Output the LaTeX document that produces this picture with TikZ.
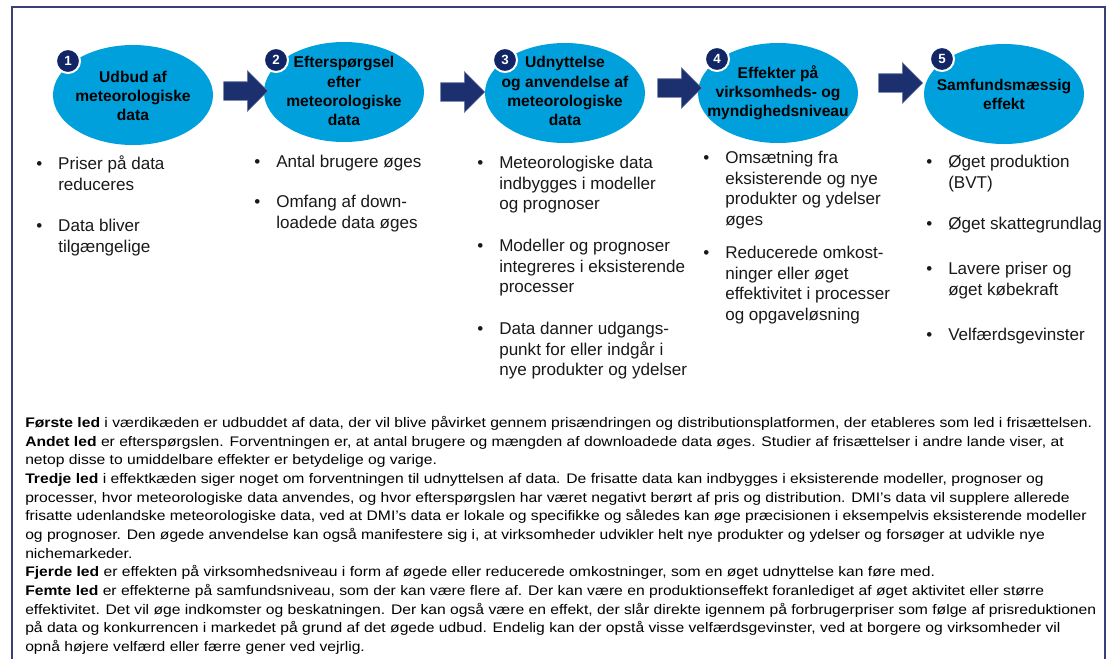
\documentclass[tikz,border=0pt]{standalone}
\usepackage{fontspec}
\setmainfont{Liberation Sans}
\newfontfamily\notefont[FakeStretch=1.13]{Liberation Sans}
\usepackage{tikz}
\usetikzlibrary{shapes, shapes.arrows, positioning}
\definecolor{cyanblue}{RGB}{0,160,220}
\definecolor{badgenavy}{RGB}{18,38,102}
\definecolor{arrownavy}{RGB}{28,48,112}
\definecolor{framenavy}{RGB}{55,65,115}
\definecolor{textgray}{RGB}{25,25,25}
\newcommand\bul{\strut\makebox[16.5pt][l]{\textbullet}}
\newcommand\ind{\makebox[16.5pt]{}}

\begin{document}
\begin{tikzpicture}[x=0.75pt, y=-0.75pt,
			stageStyle/.style={ellipse, fill=cyanblue, minimum width=120pt, minimum height=75pt, inner sep=0pt},
			stageText/.style={align=center, text=black, inner sep=0pt, font=\fontsize{11.7}{14.3}\selectfont\bfseries},
			badge/.style={circle, fill=badgenavy, draw=white, line width=1.5pt, minimum size=18pt, inner sep=0pt, text=white, font=\fontsize{10}{12}\selectfont\bfseries},
			flowArrow/.style={single arrow, fill=arrownavy, draw=arrownavy!65!white, line width=0.4pt, inner xsep=0pt, inner ysep=6.75pt, minimum width=0pt, minimum height=33pt, single arrow head extend=8.25pt},
			itemStyle/.style={anchor=north west, align=left, inner sep=0pt, text=textgray, font=\fontsize{12.8}{15.4}\selectfont},
			noteStyle/.style={anchor=north west, align=left, inner sep=0pt, text=black, font=\notefont\fontsize{10.4}{14}\selectfont},]
			
			\useasboundingbox (0,0) rectangle (1111,658);
			\clip (0,0) rectangle (1111,658);
			\draw[framenavy, line width=1.3pt] (12,7) rectangle (1105,700);
			
			\foreach \i/\x/\y in {1/133/95, 2/344/92, 3/565/93, 4/778/93, 5/1004/94}
			\node[stageStyle] (s\i) at (\x,\y) {};
			
			\node[stageText] (t1) at (s1.center) [yshift=-0.75pt] {Udbud af\\meteorologiske\\data};
			\node[stageText] (t2) at (s2.center) [yshift=0.75pt] {Efterspørgsel\\efter\\meteorologiske\\data};
			\node[stageText] (t3) at (s3.center) [yshift=1.5pt] {Udnyttelse\\og anvendelse af\\meteorologiske\\data};
			\node[stageText] (t4) at (s4.center) {Effekter på\\virksomheds- og\\myndighedsniveau};
			\node[stageText] (t5) at (s5.center) {Samfundsmæssig\\effekt};
			
			\foreach \i/\x/\y in {1/68/61, 2/276/60, 3/505/60, 4/717/59, 5/942/59}
			\node[badge] (b\i) at (\x,\y) {\i};
			
			\foreach \i/\x/\y in {1/241/91, 2/458/92, 3/675/88, 4/896/83}
			\node[flowArrow] (a\i) at (\x,\y) {};
			
			%%%%%%%%%%%
			\foreach \x/\y/\txt [count=\n] in {
				36/155/{Priser på data\\\ind reduceres},
				36/217/{Data bliver\\\ind tilgængelige},
				254/153/{Antal brugere øges},
				254/193/{Omfang af down-\\\ind loadede data øges},
				477/154/{Meteorologiske data\\\ind indbygges i modeller\\\ind og prognoser},
				477/237/{Modeller og prognoser\\\ind integreres i eksisterende\\\ind processer},
				477/320/{Data danner udgangs-\\\ind punkt for eller indgår i\\\ind nye produkter og ydelser},
				703/149/{Omsætning fra\\\ind eksisterende og nye\\\ind produkter og ydelser\\\ind øges},
				703/244/{Reducerede omkost-\\\ind ninger eller øget\\\ind effektivitet i processer\\\ind og opgaveløsning},
				926/153/{Øget produktion\\\ind (BVT)},
				926/215/{Øget skattegrundlag},
				926/260/{Lavere priser og\\\ind øget købekraft},
				926/326/{Velfærdsgevinster}}
			\node[itemStyle] (i\n) at (\x,\y) {\bul\txt};
			
			%%%%%%%%%%%
			\node[noteStyle] (note) at (25,414) {\strut\textbf{Første led} i værdikæden er udbuddet af data, der vil blive påvirket gennem prisændringen og distributionsplatformen, der etableres som led i frisættelsen.\\
				\textbf{Andet led} er efterspørgslen. Forventningen er, at antal brugere og mængden af downloadede data øges. Studier af frisættelser i andre lande viser, at\\
				netop disse to umiddelbare effekter er betydelige og varige.\\
				\textbf{Tredje led} i effektkæden siger noget om forventningen til udnyttelsen af data. De frisatte data kan indbygges i eksisterende modeller, prognoser og\\
				processer, hvor meteorologiske data anvendes, og hvor efterspørgslen har været negativt berørt af pris og distribution. DMI’s data vil supplere allerede\\
				frisatte udenlandske meteorologiske data, ved at DMI’s data er lokale og specifikke og således kan øge præcisionen i eksempelvis eksisterende modeller\\
				og prognoser. Den øgede anvendelse kan også manifestere sig i, at virksomheder udvikler helt nye produkter og ydelser og forsøger at udvikle nye\\
				nichemarkeder.\\
				\textbf{Fjerde led} er effekten på virksomhedsniveau i form af øgede eller reducerede omkostninger, som en øget udnyttelse kan føre med.\\
				\textbf{Femte led} er effekterne på samfundsniveau, som der kan være flere af. Der kan være en produktionseffekt foranlediget af øget aktivitet eller større\\
				effektivitet. Det vil øge indkomster og beskatningen. Der kan også være en effekt, der slår direkte igennem på forbrugerpriser som følge af prisreduktionen\\
				på data og konkurrencen i markedet på grund af det øgede udbud. Endelig kan der opstå visse velfærdsgevinster, ved at borgere og virksomheder vil\\
				opnå højere velfærd eller færre gener ved vejrlig.};
		\end{tikzpicture}
\end{document}
